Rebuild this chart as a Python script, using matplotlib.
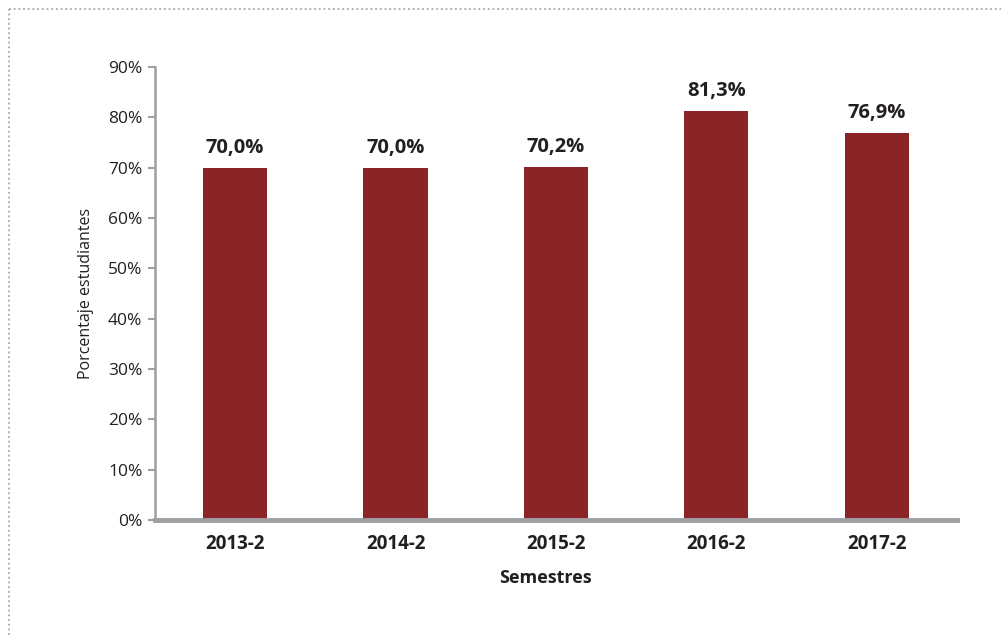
import numpy as np
import matplotlib
matplotlib.use("Agg")
import matplotlib.pyplot as plt
from matplotlib.lines import Line2D

semestres = ["2013-2", "2014-2", "2015-2", "2016-2", "2017-2"]
porcentajes = [70.0, 70.0, 70.2, 81.3, 76.9]
etiquetas = ["70,0%", "70,0%", "70,2%", "81,3%", "76,9%"]
yticks = [0, 10, 20, 30, 40, 50, 60, 70, 80, 90]

plt.rcParams['font.family'] = ['Open Sans', 'DejaVu Sans']

fig = plt.figure(figsize=(10.01, 6.35), dpi=100)
ax = fig.add_axes([0.1548, 0.181, 0.8012, 0.7135])

x = np.arange(len(semestres))
ax.bar(x, porcentajes, width=0.4, color="#8b2427", zorder=2)

for xi, v, t in zip(x, porcentajes, etiquetas):
    ax.annotate(t, (xi, v), xytext=(0, 7), textcoords="offset points",
                ha="center", va="bottom", fontsize=14.5, fontweight="bold", color="#231f20")

ax.set_xlim(-0.5, len(semestres) - 0.5)
ax.set_ylim(0, 90)
ax.set_yticks(yticks)
ax.set_yticklabels([str(t) + "%" for t in yticks], fontsize=12.5, color="#231f20")
ax.set_xticks(x)
ax.set_xticklabels(semestres, fontsize=13.5, fontweight="bold", color="#231f20")
ax.tick_params(axis="x", length=0, pad=10)
ax.tick_params(axis="y", length=5, width=1.5, color="#9d9fa2", pad=4)

for s in ["top", "right"]:
    ax.spines[s].set_visible(False)
ax.spines["left"].set_color("#9d9fa2")
ax.spines["left"].set_linewidth(1.8)
ax.spines["bottom"].set_color("#9d9fa2")
ax.spines["bottom"].set_linewidth(3.5)
ax.spines["bottom"].set_zorder(3)

ax.set_ylabel("Porcentaje estudiantes", fontsize=11.5, color="#231f20", labelpad=10)
ax.set_xlabel("Semestres", fontsize=13, fontweight="bold", color="#231f20", va="center")
ax.xaxis.set_label_coords(0.487, -0.128)

# dotted frame (top and left)
fig.add_artist(Line2D([0.009, 1.0], [0.986, 0.986], transform=fig.transFigure,
                      color="#a7a9ac", linewidth=1.3, linestyle=(0, (1, 1.6))))
fig.add_artist(Line2D([0.009, 0.009], [0.0, 0.986], transform=fig.transFigure,
                      color="#a7a9ac", linewidth=1.3, linestyle=(0, (1, 1.6))))

fig.savefig("out.png", dpi=100)
